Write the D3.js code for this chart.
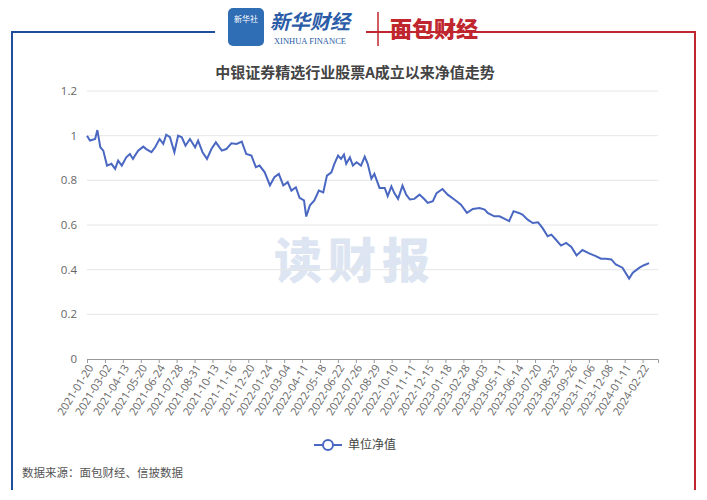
<!DOCTYPE html><html><head><meta charset="utf-8"><script src="https://cdn.jsdelivr.net/npm/d3@7"></script>
<style>body{margin:0;background:#fff}</style></head><body><svg id="c" width="707" height="500"></svg>
<script>
const tickLabels=["2021-01-20","2021-03-02","2021-04-13","2021-05-20","2021-06-24","2021-07-28","2021-08-31","2021-10-13","2021-11-16","2021-12-20","2022-01-24","2022-03-04","2022-04-11","2022-05-18","2022-06-22","2022-07-26","2022-08-29","2022-10-10","2022-11-11","2022-12-15","2023-01-18","2023-02-28","2023-04-03","2023-05-11","2023-06-14","2023-07-20","2023-08-23","2023-09-26","2023-11-06","2023-12-08","2024-01-11","2024-02-22"];
const labelStep=24.2, totalDays=771;
const dayIdx=[0,4,11,14,18,22,27,33,38,42,47,53,58,62,69,76,80,87,92,98,103,107,112,118,123,128,133,139,146,150,156,162,168,174,182,188,195,202,209,215,222,228,233,240,247,253,259,265,271,276,282,287,293,296,301,307,313,319,324,330,334,339,343,347,350,355,359,364,370,375,379,384,388,395,402,406,411,415,420,426,431,436,442,449,456,460,467,472,480,487,496,505,513,521,530,537,541,550,557,564,570,576,583,588,595,602,609,615,622,627,633,640,647,654,661,669,678,687,694,701,708,714,723,732,737,746,752,759];
const navValues=[1.0,0.978,0.985,1.025,0.948,0.933,0.866,0.874,0.851,0.888,0.866,0.903,0.918,0.896,0.933,0.951,0.940,0.926,0.948,0.985,0.963,1.004,0.993,0.926,1.0,0.993,0.955,0.985,0.948,0.978,0.926,0.896,0.940,0.970,0.933,0.940,0.966,0.963,0.973,0.918,0.911,0.859,0.866,0.836,0.777,0.814,0.829,0.777,0.792,0.754,0.769,0.722,0.710,0.638,0.688,0.710,0.754,0.746,0.821,0.836,0.874,0.911,0.896,0.915,0.874,0.903,0.866,0.881,0.866,0.906,0.874,0.807,0.829,0.766,0.766,0.729,0.773,0.743,0.717,0.776,0.736,0.714,0.717,0.736,0.714,0.699,0.707,0.743,0.761,0.736,0.714,0.691,0.654,0.672,0.676,0.669,0.654,0.639,0.639,0.627,0.617,0.662,0.654,0.647,0.624,0.609,0.612,0.587,0.550,0.557,0.535,0.508,0.520,0.502,0.464,0.488,0.473,0.461,0.449,0.449,0.446,0.423,0.409,0.360,0.386,0.409,0.420,0.429];
const yTicks=[0,0.2,0.4,0.6,0.8,1,1.2];
const svg=d3.select("#c");
svg.append("path").attr("d","M215,32H12V490").attr("fill","none").attr("stroke","#1f4e9c").attr("stroke-width",2);
svg.append("path").attr("d","M366,32H695V490").attr("fill","none").attr("stroke","#c0262d").attr("stroke-width",2);
const g0=svg.append("g");
g0.append("rect").attr("x",228).attr("y",8).attr("width",36).attr("height",38).attr("rx",5).attr("fill","#2f6db5");
g0.append("text").attr("x",246).attr("y",22).attr("text-anchor","middle").attr("fill","#fff").attr("font-size",8).attr("font-family","Noto Sans CJK SC").text("新华社");
g0.append("text").attr("x",310).attr("y",29).attr("text-anchor","middle").attr("fill","#2a5ca8").attr("font-size",20).attr("font-style","italic").attr("font-weight","bold").attr("font-family","Noto Sans CJK SC").text("新华财经");
g0.append("text").attr("x",310).attr("y",44).attr("text-anchor","middle").attr("fill","#2a5ca8").attr("font-size",8.5).attr("font-family","Liberation Serif").text("XINHUA FINANCE");
g0.append("line").attr("x1",378).attr("x2",378).attr("y1",12).attr("y2",46).attr("stroke","#c0262d").attr("stroke-width",1.5);
g0.append("text").attr("x",434).attr("y",37).attr("text-anchor","middle").attr("fill","#c0262d").attr("font-size",22).attr("font-weight","900").attr("font-family","Noto Sans CJK SC").text("面包财经");
svg.append("text").attr("x",355).attr("y",78).attr("text-anchor","middle").attr("fill","#444").attr("font-size",15).attr("font-weight","bold").attr("font-family","Noto Sans CJK SC").text("中银证券精选行业股票A成立以来净值走势");
svg.append("text").attr("x",355).attr("y",278).attr("text-anchor","middle").attr("fill","#dce5f1").attr("font-size",48).attr("font-weight","900").attr("letter-spacing",6).attr("font-family","Noto Sans CJK SC").text("读财报");
const x=d3.scaleLinear().domain([0,totalDays]).range([87,658]);
const y=d3.scaleLinear().domain([0,1.2]).range([359,91]);
svg.append("g").selectAll("line").data(yTicks.slice(1)).join("line").attr("x1",87).attr("x2",658).attr("y1",d=>y(d)).attr("y2",d=>y(d)).attr("stroke","#e6e6e6");
svg.append("g").selectAll("text").data(yTicks).join("text").attr("x",77).attr("y",d=>y(d)+4).attr("text-anchor","end").attr("fill","#666").attr("font-size",11.5).attr("font-family","Open Sans").text(d=>d);
const ax=d3.axisBottom(x).tickValues(tickLabels.map((d,i)=>i*labelStep)).tickFormat((d,i)=>tickLabels[i]).tickSize(4);
const ag=svg.append("g").attr("transform","translate(0,359)").call(ax);
ag.select(".domain").attr("stroke","#999");
ag.selectAll(".tick line").attr("stroke","#999");
ag.selectAll("text").attr("fill","#666").attr("font-size",11).attr("font-family","Open Sans").attr("text-anchor","end").attr("y",0).attr("dx",-4).attr("dy",10).attr("transform","rotate(-58)");
const pts=dayIdx.map((d,i)=>[d,navValues[i]]);
svg.append("path").datum(pts).attr("fill","none").attr("stroke","#4a68c1").attr("stroke-width",2).attr("d",d3.line().x(d=>x(d[0])).y(d=>y(d[1])));
svg.append("line").attr("x1",314).attr("x2",342).attr("y1",445).attr("y2",445).attr("stroke","#4a68c1").attr("stroke-width",2);
svg.append("circle").attr("cx",328).attr("cy",445).attr("r",5).attr("fill","#fff").attr("stroke","#4a68c1").attr("stroke-width",2);
svg.append("text").attr("x",348).attr("y",449).attr("fill","#444").attr("font-size",12).attr("font-family","Noto Sans CJK SC").text("单位净值");
svg.append("text").attr("x",22).attr("y",477).attr("fill","#555").attr("font-size",11.5).attr("font-family","Noto Sans CJK SC").text("数据来源：面包财经、信披数据");
</script></body></html>
